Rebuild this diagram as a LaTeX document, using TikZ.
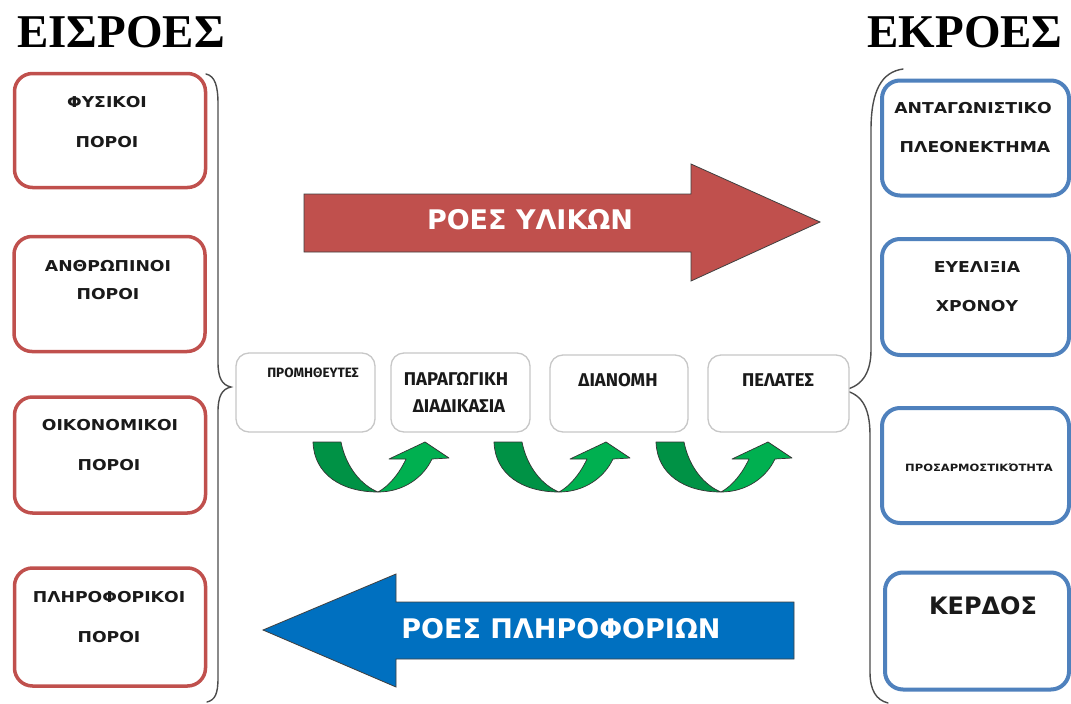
\documentclass[tikz,border=0pt]{standalone}
\usepackage{fontspec}
\setmainfont{Liberation Serif}
\newfontfamily\titlefont{Liberation Serif}
\newfontfamily\labelfont[FakeStretch=1.15]{DejaVu Sans}
\newfontfamily\plainlabelfont{DejaVu Sans}
\newfontfamily\stagefont{Fira Sans}
\definecolor{inred}{HTML}{C0504D}
\definecolor{outblue}{HTML}{4F81BD}
\definecolor{flowred}{HTML}{C0504D}
\definecolor{flowblue}{HTML}{0070C0}
\definecolor{darkgreen}{HTML}{009245}
\definecolor{lightgreen}{HTML}{00B050}
\definecolor{inktext}{HTML}{1A1A1A}

\tikzset{
  inbox/.style={draw=inred, line width=3.5pt, rounded corners=18pt, fill=white, inner sep=0pt},
  outbox/.style={draw=outblue, line width=4pt, rounded corners=18pt, fill=white, inner sep=0pt},
  stagebox/.style={draw=black!22, line width=1.3pt, rounded corners=13pt, fill=white, inner sep=0pt},
  lbl/.style={font=\labelfont\bfseries\fontsize{15}{18}\selectfont, text=inktext, inner sep=0pt},
  smalllbl/.style={font=\labelfont\bfseries\fontsize{10}{12}\selectfont, text=inktext, inner sep=0pt},
  biglbl/.style={font=\plainlabelfont\bfseries\fontsize{24}{28}\selectfont, text=inktext, inner sep=0pt},
  stagelbl/.style={font=\stagefont\bfseries\fontsize{18.5}{22}\selectfont, text=inktext, inner sep=0pt},
  title/.style={font=\titlefont\bfseries\fontsize{47}{54}\selectfont, text=black, inner sep=0pt},
  flowlbl/.style={font=\plainlabelfont\bfseries\fontsize{27}{32}\selectfont, text=white, inner sep=0pt},
  flowarrow/.style={draw=black!75, line width=0.8pt},
  brace/.style={draw=black!70, line width=1.4pt, line cap=round},
  uturn/.pic={
    % rising front half with the head
    \filldraw[fill=lightgreen, draw=black!80, line width=0.7pt, line join=round]
      (65,50) .. controls (90,50) and (110,36) .. (119,17)
      -- (136,16) -- (112,0) -- (76,17) -- (93,17)
      .. controls (86,32) and (76,44) .. (65,50) -- cycle;
    % falling back half
    \filldraw[fill=darkgreen, draw=black!80, line width=0.7pt, line join=round]
      (0,0) -- (28,0) .. controls (33,25) and (48,43) .. (65,50)
      .. controls (28,50) and (1,32) .. (0,0) -- cycle;
  }
}

\begin{document}
\begin{tikzpicture}[x=1pt, y=-1pt]
\useasboundingbox (0,0) rectangle (1071,704);
\fill[white] (0,0) rectangle (1071,704);

% headings
\node[title] (intitle) at (121,32) {ΕΙΣΡΟΕΣ};
\node[title] (outtitle) at (965,32) {ΕΚΡΟΕΣ};

% input resources
\node[inbox, minimum width=191pt, minimum height=114pt] (phys) at (110,130.5) {};
\node[lbl] (phys1) at (107,102) {ΦΥΣΙΚΟΙ};
\node[lbl] (phys2) at (107,142) {ΠΟΡΟΙ};

\node[inbox, minimum width=191pt, minimum height=115pt] (human) at (109.5,294) {};
\node[lbl] (human1) at (108,266) {ΑΝΘΡΩΠΙΝΟΙ};
\node[lbl] (human2) at (108,294) {ΠΟΡΟΙ};

\node[inbox, minimum width=191pt, minimum height=116pt] (fin) at (110,455) {};
\node[lbl] (fin1) at (110,425) {ΟΙΚΟΝΟΜΙΚΟΙ};
\node[lbl] (fin2) at (109,465) {ΠΟΡΟΙ};

\node[inbox, minimum width=191pt, minimum height=118pt] (info) at (110,627) {};
\node[lbl] (info1) at (109,597) {ΠΛΗΡΟΦΟΡΙΚΟΙ};
\node[lbl] (info2) at (109,637) {ΠΟΡΟΙ};

% outputs
\node[outbox, minimum width=187pt, minimum height=115pt] (adv) at (975.5,138) {};
\node[lbl] (adv1) at (973,108) {ΑΝΤΑΓΩΝΙΣΤΙΚΟ};
\node[lbl] (adv2) at (975,147) {ΠΛΕΟΝΕΚΤΗΜΑ};

\node[outbox, minimum width=187pt, minimum height=116pt] (flex) at (975.5,297) {};
\node[lbl] (flex1) at (977,267) {ΕΥΕΛΙΞΙΑ};
\node[lbl] (flex2) at (977,306) {ΧΡΟΝΟΥ};

\node[outbox, minimum width=187pt, minimum height=115pt] (adapt) at (975.5,465.5) {};
\node[smalllbl] (adapt1) at (979,468) {ΠΡΟΣΑΡΜΟΣΤΙΚΌΤΗΤΑ};

\node[outbox, minimum width=184pt, minimum height=117pt] (profit) at (977,631) {};
\node[biglbl] (profit1) at (983,606) {ΚΕΡΔΟΣ};

% braces
\draw[brace] (206,74) .. controls (215,76) and (218,86) .. (218,104)
  -- (218,362) .. controls (218,378) and (222,385) .. (231,387)
  .. controls (222,389) and (218,396) .. (218,412)
  -- (218,678) .. controls (218,694) and (215,700) .. (207,702);
\draw[brace] (903,69) .. controls (882,72) and (871,90) .. (871,130)
  -- (871,350) .. controls (871,375) and (860,388) .. (842,390)
  .. controls (860,393) and (870,405) .. (870,435)
  -- (870,672) .. controls (870,690) and (876,700) .. (888,703);

% material flow
\filldraw[flowarrow, fill=flowred] (304,194) -- (691,194) -- (691,164) -- (820,222)
  -- (691,281) -- (691,252) -- (304,252) -- cycle;
\node[flowlbl] (matflow) at (530,220) {ΡΟΕΣ ΥΛΙΚΩΝ};

% information flow
\filldraw[flowarrow, fill=flowblue] (794,602) -- (396,602) -- (396,574) -- (263,630)
  -- (396,687) -- (396,659) -- (794,659) -- cycle;
\node[flowlbl] (infoflow) at (561,629) {ΡΟΕΣ ΠΛΗΡΟΦΟΡΙΩΝ};

% supply chain stages
\node[stagebox, minimum width=139pt, minimum height=79pt] (sup) at (305.5,392.5) {};
\node[stagelbl, font=\stagefont\bfseries\fontsize{13.5}{16}\selectfont] (sup1) at (313,373) {ΠΡΟΜΗΘΕΥΤΕΣ};

\node[stagebox, minimum width=139pt, minimum height=79pt] (prod) at (460.5,392.5) {};
\node[stagelbl] (prod1) at (456,379) {ΠΑΡΑΓΩΓΙΚΗ};
\node[stagelbl] (prod2) at (459,406) {ΔΙΑΔΙΚΑΣΙΑ};

\node[stagebox, minimum width=138pt, minimum height=77pt] (dist) at (619,393.5) {};
\node[stagelbl] (dist1) at (618,380) {ΔΙΑΝΟΜΗ};

\node[stagebox, minimum width=141pt, minimum height=77pt] (cust) at (778.5,393.5) {};
\node[stagelbl] (cust1) at (778,380) {ΠΕΛΑΤΕΣ};

% turn arrows between stages
\pic at (313,442) {uturn};
\pic at (494,442) {uturn};
\pic at (656,442) {uturn};
\end{tikzpicture}
\end{document}
